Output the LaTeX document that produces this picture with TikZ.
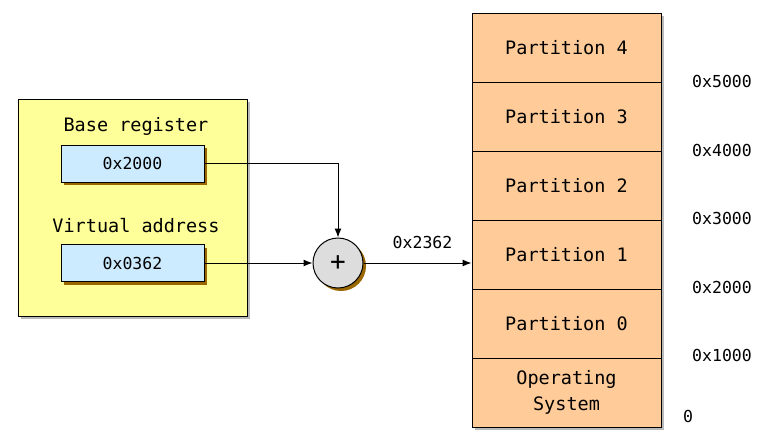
\documentclass[tikz,border=0pt]{standalone}
\usepackage{fontspec}
\setmainfont{DejaVu Sans Mono}
\usetikzlibrary{shapes, shadows, arrows.meta}

\definecolor{regbg}{RGB}{255,255,153}
\definecolor{valbg}{RGB}{204,235,255}
\definecolor{partbg}{RGB}{255,204,153}
\definecolor{addbg}{RGB}{221,221,221}
\definecolor{brownshade}{RGB}{153,102,0}

\newcommand{\labelfont}{\fontsize{18.5}{26}\selectfont}
\newcommand{\hexfont}{\fontsize{16.5}{20}\selectfont}

\tikzset{
  holder/.style={rectangle, draw=black, line width=1pt, fill=regbg, minimum width=229pt, minimum height=217pt,
    drop shadow={shadow xshift=2.5pt, shadow yshift=-2.5pt, fill=black!45, opacity=0.6}},
  value/.style={rectangle, draw=black, line width=1pt, fill=valbg, minimum width=143pt, minimum height=37pt,
    font=\hexfont, drop shadow={shadow xshift=3pt, shadow yshift=-3pt, fill=brownshade, opacity=1}},
  adder/.style={circle, draw=black, line width=1pt, fill=addbg, minimum size=50pt, inner sep=0pt,
    font=\fontsize{26}{26}\selectfont, drop shadow={shadow xshift=3pt, shadow yshift=-3pt, fill=brownshade, opacity=1}},
  part/.style={rectangle, draw=black, line width=1pt, fill=partbg, minimum width=189pt, minimum height=69pt,
    font=\labelfont, align=center,
    drop shadow={shadow xshift=2.5pt, shadow yshift=-2.5pt, fill=black!45, opacity=0.6}},
  addr/.style={font=\hexfont, inner sep=0pt},
  link/.style={-{Latex[length=9pt, width=7pt]}, line width=1pt}
}

\begin{document}
\begin{tikzpicture}[x=1pt, y=-1pt]
\useasboundingbox (0,0) rectangle (771,445);

\node[holder] (reg) at (132.5,207.5) {};
\node[font=\labelfont] (baselbl) at (136,126) {Base register};
\node[value] (base) at (132.5,163.5) {0x2000};
\node[font=\labelfont] (virtlbl) at (136,226) {Virtual address};
\node[value] (virt) at (132.5,263) {0x0362};

\node[adder] (add) at (338,263) {+};

\node[part] (p4) at (566.5,47.5) {Partition 4};
\node[part] (p3) at (566.5,116.5) {Partition 3};
\node[part] (p2) at (566.5,185.5) {Partition 2};
\node[part] (p1) at (566.5,254.5) {Partition 1};
\node[part] (p0) at (566.5,323.5) {Partition 0};
\node[part] (os) at (566.5,392.5) {Operating\\System};

\node[addr] (a5) at (722,81) {0x5000};
\node[addr] (a4) at (722,150) {0x4000};
\node[addr] (a3) at (722,218) {0x3000};
\node[addr] (a2) at (722,287) {0x2000};
\node[addr] (a1) at (722,355) {0x1000};
\node[addr] (a0) at (688,416) {0};

\draw[link] (base.east) -| (add.north);
\draw[link] (virt.east) -- (add.west);
\draw[link] (add.east) --node[above=10pt, xshift=5pt, font=\hexfont]{0x2362} (add.east -| p1.west);
\end{tikzpicture}
\end{document}
